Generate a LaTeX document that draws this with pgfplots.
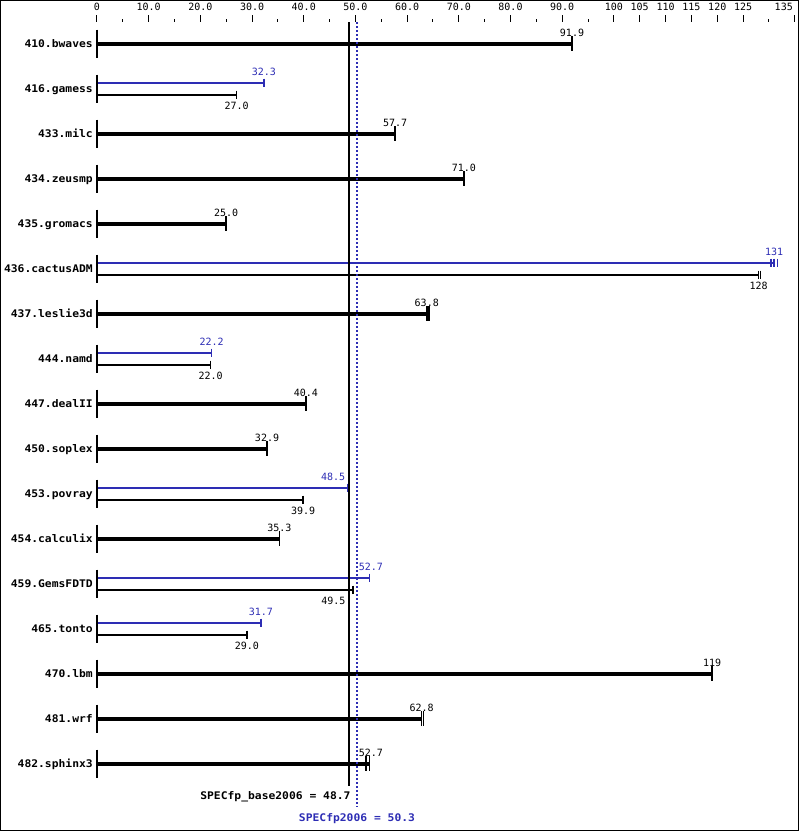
\documentclass[border=0pt]{standalone}
\usepackage{pgfplots}
\pgfplotsset{compat=1.18}
\usepackage{pgfplotstable}
\usepackage{fontspec}
\setmainfont{DejaVu Sans Mono}
\newfontfamily\boldmono{DejaVu Sans Mono}[FakeStretch=1.08]
\definecolor{peakblue}{RGB}{45,45,180}

\pgfplotstableread{
y name
43.5 410.bwaves
88.5 416.gamess
133.5 433.milc
178.5 434.zeusmp
223.5 435.gromacs
268.5 436.cactusADM
313.5 437.leslie3d
358.5 444.namd
403.5 447.dealII
448.5 450.soplex
493.5 453.povray
538.5 454.calculix
583.5 459.GemsFDTD
628.5 465.tonto
673.5 470.lbm
718.5 481.wrf
763.5 482.sphinx3
}\names

% single bars (base = peak)
\pgfplotstableread{
y v lab dx
43.5 91.9 91.9 0
133.5 57.7 57.7 0
178.5 71.0 71.0 0
223.5 25.0 25.0 0
313.5 63.8 63.8 0
403.5 40.4 40.4 0
448.5 32.9 32.9 0
538.5 35.3 35.3 0
673.5 119 119 0
718.5 62.8 62.8 0
763.5 52.7 52.7 1.5
}\singles

% peak bars
\pgfplotstableread{
y v lab dx
82.5 32.3 32.3 0
262.5 131 131 0
352.5 22.2 22.2 0
487.5 48.5 48.5 -14.5
577.5 52.7 52.7 1.5
622.5 31.7 31.7 0
}\peaks

% base bars
\pgfplotstableread{
y v lab dx
94.5 27.0 27.0 0
274.5 128 128 0
364.5 22.0 22.0 0
499.5 39.9 39.9 0
589.5 49.5 49.5 -19.5
634.5 29.0 29.0 0
}\bases

% extra run ticks
\pgfplotstableread{
y v
313.5 64.2
718.5 63.2
763.5 52.0
}\extrasingle
\pgfplotstableread{
y v
262.5 130.4
262.5 131.7
}\extrapeak
\pgfplotstableread{
y v
274.5 128.4
}\extrabase

\begin{document}
\begin{tikzpicture}
\begin{axis}[
  scale only axis, width=799pt, height=809pt,
  xmin=-18.761, xmax=135.773, ymin=22, ymax=831, y dir=reverse,
  axis x line*=top, axis y line=none,
  x axis line style={draw=none},
  tick align=outside,
  xtick={0,10,20,30,40,50,60,70,80,90,100,105,110,115,120,125,135},
  xticklabels={0,10.0,20.0,30.0,40.0,50.0,60.0,70.0,80.0,90.0,100,105,110,115,120,125,{\llap{135\hspace*{2pt}}}},
  minor xtick={5,15,25,35,45,55,65,75,85,95,130},
  major tick length=7pt, minor tick length=3pt,
  every tick/.style={black, line width=1pt},
  xticklabel style={font=\fontsize{10}{12}\selectfont, yshift=0.8pt},
  /pgf/number format/assume math mode=true,
  clip=false,
]
% zero lines
\addplot[only marks, mark=|, mark size=14pt, mark options={black, line width=1.5pt}] table[x expr=0, y=y] \names;
% names
\addplot[draw=none, nodes near coords, point meta=explicit symbolic,
  every node near coord/.append style={anchor=base east, xshift=-4pt, yshift=-4.2pt, black, inner sep=0pt,
  font=\boldmono\bfseries\fontsize{10.5}{12}\selectfont}] table[x expr=0, y=y, meta=name] \names;
% single bars
\addplot[xcomb, black, line width=4pt, mark=|, mark size=7.5pt, mark options={line width=1.5pt},
  visualization depends on={\thisrow{dx} \as \dx},
  nodes near coords, point meta=explicit symbolic,
  every node near coord/.append style={anchor=base, yshift=6.85pt, xshift=\dx pt, inner sep=0pt, black, font=\fontsize{10}{12}\selectfont}]
  table[x=v, y=y, meta=lab] \singles;
\addplot[only marks, black, mark=|, mark size=7.5pt, mark options={line width=1.5pt}] table[x=v, y=y] \extrasingle;
% peak bars
\addplot[xcomb, peakblue, line width=2pt, mark=|, mark size=4pt, mark options={line width=1.5pt},
  visualization depends on={\thisrow{dx} \as \dx},
  nodes near coords, point meta=explicit symbolic,
  every node near coord/.append style={anchor=base, yshift=6.85pt, xshift=\dx pt, inner sep=0pt, peakblue, font=\fontsize{10}{12}\selectfont}]
  table[x=v, y=y, meta=lab] \peaks;
\addplot[only marks, peakblue, mark=|, mark size=4pt, mark options={line width=1.5pt}] table[x=v, y=y] \extrapeak;
% base bars
\addplot[xcomb, black, line width=2pt, mark=|, mark size=4pt, mark options={line width=1.5pt},
  visualization depends on={\thisrow{dx} \as \dx},
  nodes near coords, point meta=explicit symbolic,
  every node near coord/.append style={anchor=base, yshift=-14.65pt, xshift=\dx pt, inner sep=0pt, black, font=\fontsize{10}{12}\selectfont}]
  table[x=v, y=y, meta=lab] \bases;
\addplot[only marks, black, mark=|, mark size=4pt, mark options={line width=1.5pt}] table[x=v, y=y] \extrabase;
% means
\addplot[black, line width=2pt] coordinates {(48.7,22) (48.7,786)};
\addplot[peakblue, line width=2pt, dash pattern=on 2pt off 2pt] coordinates {(50.3,22) (50.3,807)};
\node[anchor=base east, inner sep=0pt, xshift=2pt, font=\boldmono\bfseries\fontsize{10.5}{12}\selectfont] at (axis cs:48.7,799) {SPECfp\_base2006 = 48.7};
\node[anchor=base, inner sep=0pt, text=peakblue, font=\boldmono\bfseries\fontsize{10.5}{12}\selectfont] at (axis cs:50.3,821) {SPECfp2006 = 50.3};
% frame
\draw[black, line width=1pt] (axis cs:-18.664,0.5) rectangle (axis cs:135.676,830.5);
\end{axis}
\end{tikzpicture}
\end{document}
